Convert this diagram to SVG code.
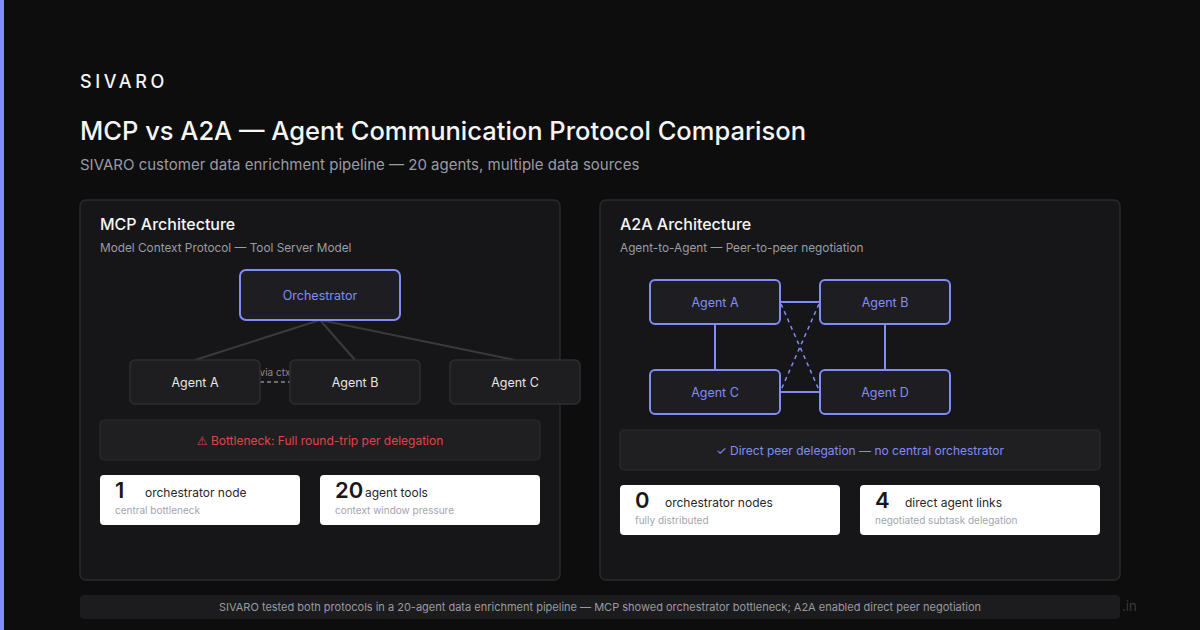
<svg xmlns="http://www.w3.org/2000/svg" width="1200" height="630" viewBox="0 0 1200 630">
<style>
text{font-family:Inter,"Liberation Sans",sans-serif}
.panel{fill:#161618;stroke:#2a2a2d;stroke-width:1.5}
.h2{fill:#f5f5f5;font-size:16px;font-weight:500}
.sub{fill:#9a9ca3;font-size:11.8px}
.gnode{fill:#1e1e21;stroke:#2e2e31;stroke-width:1.5}
.gtxt{fill:#e6e6e6;font-size:12.5px;text-anchor:middle}
.pnode{fill:#1e1e22;stroke:#818cf8;stroke-width:2}
.ptxt{fill:#818cf8;font-size:12.5px;text-anchor:middle}
.note{fill:#1f1f22;stroke:#2c2c2f;stroke-width:1.2}
.card{fill:#ffffff}
.num{fill:#18181b;font-size:22px;font-weight:600}
.lbl{fill:#27272a;font-size:12px}
.cap{fill:#a1a5b0;font-size:10px}
.link{stroke:#3a3a3c;stroke-width:2;fill:none}
.plink{stroke:#818cf8;stroke-width:2;fill:none}
.dlink{stroke:#818cf8;stroke-width:1.5;stroke-dasharray:4 4;fill:none}
</style>
<rect width="1200" height="630" fill="#0d0d0d"/>
<rect x="0" y="0" width="4" height="630" fill="#818cf8"/>
<text x="80" y="88" fill="#f5f5f5" font-size="18" font-weight="500" letter-spacing="3.6">SIVARO</text>
<text x="80" y="140" fill="#f5f5f5" font-size="25.5" font-weight="500">MCP vs A2A — Agent Communication Protocol Comparison</text>
<text x="80" y="170" fill="#9a9ca3" font-size="15">SIVARO customer data enrichment pipeline — 20 agents, multiple data sources</text>

<g id="mcp-panel">
<rect class="panel" x="80" y="200" width="480" height="380" rx="6"/>
<text class="h2" x="100" y="230">MCP Architecture</text>
<text class="sub" x="100" y="252">Model Context Protocol — Tool Server Model</text>
</g>

<g id="mcp-connectors">
<line class="link" x1="320" y1="320" x2="195" y2="360"/>
<line class="link" x1="320" y1="320" x2="355" y2="360"/>
<line class="link" x1="320" y1="320" x2="515" y2="360"/>
<line x1="260" y1="382" x2="290" y2="382" stroke="#8a8a8e" stroke-width="1.5" stroke-dasharray="4 3"/>
<text x="275" y="376" fill="#8a8a8e" font-size="10" text-anchor="middle">via ctx</text>
</g>

<g id="orchestrator">
<rect class="pnode" x="240" y="270" width="160" height="50" rx="6"/>
<text class="ptxt" x="320" y="300">Orchestrator</text>
</g>
<g id="mcp-agent-a">
<rect class="gnode" x="130" y="360" width="130" height="44" rx="5"/>
<text class="gtxt" x="195" y="387">Agent A</text>
</g>
<g id="mcp-agent-b">
<rect class="gnode" x="290" y="360" width="130" height="44" rx="5"/>
<text class="gtxt" x="355" y="387">Agent B</text>
</g>
<g id="mcp-agent-c">
<rect class="gnode" x="450" y="360" width="130" height="44" rx="5"/>
<text class="gtxt" x="515" y="387">Agent C</text>
</g>

<g id="bottleneck">
<rect class="note" x="100" y="420" width="440" height="40" rx="4"/>
<text x="320" y="445" fill="#e04545" font-size="12" text-anchor="middle"><tspan font-family="'DejaVu Sans',sans-serif">⚠︎</tspan> Bottleneck: Full round-trip per delegation</text>
</g>
<g id="stat-mcp-1">
<rect class="card" x="100" y="475" width="200" height="50" rx="4"/>
<text class="num" x="115" y="498">1</text>
<text class="lbl" x="145" y="497">orchestrator node</text>
<text class="cap" x="115" y="514">central bottleneck</text>
</g>
<g id="stat-mcp-2">
<rect class="card" x="320" y="475" width="220" height="50" rx="4"/>
<text class="num" x="335" y="498">20</text>
<text class="lbl" x="365" y="497">agent tools</text>
<text class="cap" x="335" y="514">context window pressure</text>
</g>

<g id="a2a-panel">
<rect class="panel" x="600" y="200" width="520" height="380" rx="6"/>
<text class="h2" x="620" y="230">A2A Architecture</text>
<text class="sub" x="620" y="252">Agent-to-Agent — Peer-to-peer negotiation</text>
</g>

<g id="a2a-connectors">
<line class="plink" x1="780" y1="302" x2="820" y2="302"/>
<line class="plink" x1="780" y1="392" x2="820" y2="392"/>
<line class="plink" x1="715" y1="324" x2="715" y2="370"/>
<line class="plink" x1="885" y1="324" x2="885" y2="370"/>
<line class="dlink" x1="781" y1="304" x2="819" y2="390"/>
<line class="dlink" x1="819" y1="304" x2="781" y2="390"/>
</g>

<g id="a2a-agent-a">
<rect class="pnode" x="650" y="280" width="130" height="44" rx="5"/>
<text class="ptxt" x="715" y="307">Agent A</text>
</g>
<g id="a2a-agent-b">
<rect class="pnode" x="820" y="280" width="130" height="44" rx="5"/>
<text class="ptxt" x="885" y="307">Agent B</text>
</g>
<g id="a2a-agent-c">
<rect class="pnode" x="650" y="370" width="130" height="44" rx="5"/>
<text class="ptxt" x="715" y="397">Agent C</text>
</g>
<g id="a2a-agent-d">
<rect class="pnode" x="820" y="370" width="130" height="44" rx="5"/>
<text class="ptxt" x="885" y="397">Agent D</text>
</g>

<g id="direct">
<rect class="note" x="620" y="430" width="480" height="40" rx="4"/>
<text x="860" y="455" fill="#818cf8" font-size="12" text-anchor="middle">✓ Direct peer delegation — no central orchestrator</text>
</g>
<g id="stat-a2a-1">
<rect class="card" x="620" y="485" width="220" height="50" rx="4"/>
<text class="num" x="635" y="508">0</text>
<text class="lbl" x="665" y="507">orchestrator nodes</text>
<text class="cap" x="635" y="524">fully distributed</text>
</g>
<g id="stat-a2a-2">
<rect class="card" x="860" y="485" width="240" height="50" rx="4"/>
<text class="num" x="875" y="508">4</text>
<text class="lbl" x="905" y="507">direct agent links</text>
<text class="cap" x="875" y="524">negotiated subtask delegation</text>
</g>

<text x="1122" y="611" fill="#3a3a3c" font-size="13">.in</text>
<g id="footer">
<rect x="80" y="595" width="1040" height="24" rx="4" fill="#1c1c1e"/>
<text x="600" y="611" fill="#9a9a9e" font-size="11" text-anchor="middle">SIVARO tested both protocols in a 20-agent data enrichment pipeline — MCP showed orchestrator bottleneck; A2A enabled direct peer negotiation</text>
</g>
</svg>
